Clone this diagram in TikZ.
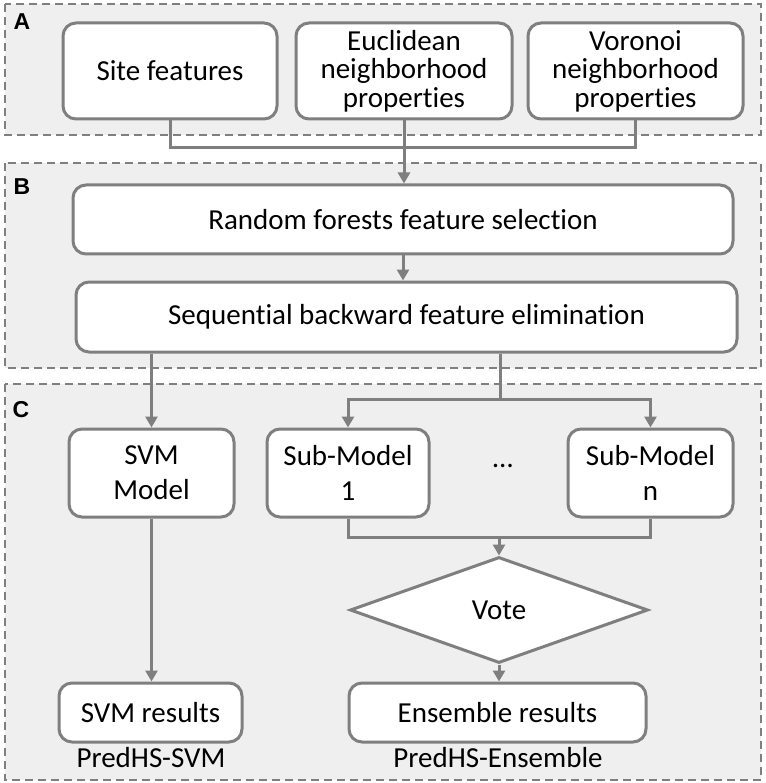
\documentclass[tikz,border=0pt]{standalone}
\usepackage{fontspec}
\setmainfont{Carlito}[RawFeature=-liga]
\newfontfamily\labfont{Liberation Sans}
\usetikzlibrary{arrows.meta,shapes.geometric}
\definecolor{ln}{HTML}{7F7F7F}
\definecolor{pan}{HTML}{EFEFEF}
\begin{document}
\begin{tikzpicture}[x=1pt,y=-1pt,
 panel/.style={draw=ln, fill=pan, line width=2.2pt, dash pattern=on 8pt off 5pt},
 box/.style={draw=ln, fill=white, line width=3pt, rounded corners=13pt, align=center, font=\fontsize{29}{28.5}\selectfont, inner sep=0pt},
 conn/.style={draw=ln, line width=3pt},
 arr/.style={conn, -{Triangle[length=11pt,width=12pt]}},
 lab/.style={font=\labfont\bfseries\fontsize{23}{26}\selectfont, inner sep=0pt},
 txt/.style={font=\fontsize{29}{28.5}\selectfont, inner sep=0pt}]
\useasboundingbox[fill=white] (0,0) rectangle (765,783);
% panels
\draw[panel] (5,4) rectangle (761,135);
\draw[panel] (5,163) rectangle (761,368);
\draw[panel] (5,384) rectangle (761,780);
\node[lab] (la) at (22,22) {A};
\node[lab] (lb) at (22,187) {B};
\node[lab] (lc) at (21,410) {C};
% panel A
\node[box, minimum width=214, minimum height=96] (site) at (170,71) {Site features};
\node[box, minimum width=216, minimum height=96] (euc) at (404,71) {Euclidean\\neighborhood\\properties};
\node[box, minimum width=215, minimum height=96] (voro) at (635.5,71) {Voronoi\\neighborhood\\properties};
% panel B
\node[box, minimum width=660, minimum height=69] (rf) at (403,219.5) {Random forests feature selection};
\node[box, minimum width=661, minimum height=70] (seq) at (406.5,317) {Sequential backward feature elimination};
% panel C
\node[box, minimum width=165, minimum height=88] (svm) at (151.5,473) {SVM\\[6.5pt]Model};
\node[box, minimum width=162, minimum height=88] (sub1) at (348,473) {Sub-Model\\[6.5pt]1};
\node[box, minimum width=165, minimum height=88] (subn) at (650.5,473) {Sub-Model\\[6.5pt]n};
\node[txt] (dots) at (503,466) {…};
\node[draw=ln, fill=white, line width=3pt, diamond, aspect=2.8, minimum width=298, minimum height=106, inner sep=0pt, font=\fontsize{29}{28.5}\selectfont] (vote) at (499,610) {Vote};
\node[box, minimum width=183, minimum height=59] (svmres) at (150.5,712.5) {SVM results};
\node[box, minimum width=297, minimum height=59] (ensres) at (497.5,712.5) {Ensemble results};
\node[txt, anchor=base] (capsvm) at (151,767) {PredHS-SVM};
\node[txt, anchor=base] (capens) at (498,767) {PredHS-Ensemble};
% connectors
\coordinate (mA) at (404,148);
\draw[conn] (site.south) |- (mA) -| (voro.south);
\draw[arr] (euc.south) -- (rf.north -| euc.south);
\draw[arr] (rf.south -| 403,0) -- (seq.north -| 403,0);
\draw[arr] (seq.south -| svm.north) -- (svm.north);
\coordinate (split) at (500,399);
\draw[conn] (seq.south -| split) -- (split);
\draw[arr] (split) -| (sub1.north);
\draw[arr] (split) -| (subn.north);
\coordinate (merge) at (499,537);
\draw[conn] (sub1.south) |- (merge) -| (subn.south);
\draw[arr] (merge) -- (vote.north);
\draw[arr] (svm.south) -- (svmres.north -| svm.south);
\draw[arr] (vote.south) -- (ensres.north -| vote.south);
\end{tikzpicture}
\end{document}
